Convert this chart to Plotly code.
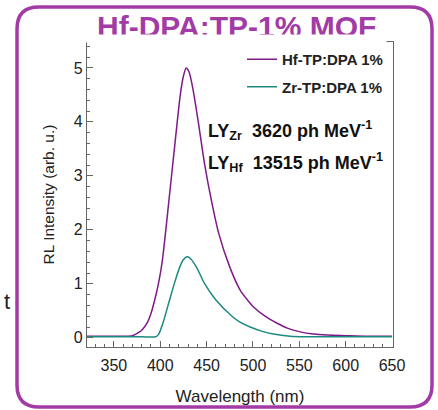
import plotly.graph_objects as go

# spectra (wavelength nm -> RL intensity)
hf_nm = [320, 340, 360, 370, 376, 381, 386, 390, 394, 398, 402, 406, 410, 414, 418, 422, 425,
         428, 431, 435, 441, 448, 455, 463, 475, 486, 495, 500, 513, 526, 537, 551, 565, 580,
         600, 625, 650]
hf_val = [0.03, 0.03, 0.03, 0.04, 0.09, 0.16, 0.28, 0.45, 0.7, 1.0, 1.4, 2.0, 2.65, 3.3, 3.95,
          4.55, 4.85, 5.0, 4.93, 4.63, 4.0, 3.2, 2.56, 1.94, 1.31, 0.89, 0.68, 0.58, 0.4, 0.27,
          0.18, 0.11, 0.07, 0.05, 0.04, 0.03, 0.03]

zr_nm = [320, 340, 360, 380, 395, 398, 403, 410, 416, 421, 425, 429, 433, 439, 448, 460, 478,
         486, 497, 510, 522, 540, 560, 600, 650]
zr_val = [0.02, 0.02, 0.02, 0.02, 0.02, 0.06, 0.28, 0.7, 1.05, 1.31, 1.45, 1.5, 1.46, 1.31,
          1.0, 0.7, 0.39, 0.29, 0.2, 0.12, 0.07, 0.03, 0.02, 0.02, 0.02]

x_ticks = [350, 400, 450, 500, 550, 600, 650]
y_ticks = [0, 1, 2, 3, 4, 5]

W, H = 438, 410
L, R, T, B = 87, 45, 42, 63
PW, PH = W - L - R, H - T - B

def px(x):
    return (x - L) / PW

def py(y):
    return (H - B - y) / PH

PURPLE = "#7e1a88"
TEAL = "#1b8a80"
FRAME = "#a23ba6"
FONT = "Arial, Liberation Sans, sans-serif"

fig = go.Figure()
fig.add_trace(go.Scatter(x=hf_nm, y=hf_val, mode="lines", name="<b>Hf-TP:DPA 1%</b>",
                         line=dict(color=PURPLE, width=1.5, shape="spline", smoothing=0.8),
                         legendgroup="a"))
fig.add_trace(go.Scatter(x=zr_nm, y=zr_val, mode="lines", name="<b>Zr-TP:DPA 1%</b>",
                         line=dict(color=TEAL, width=1.5, shape="spline", smoothing=0.8),
                         legendgroup="b"))

# rounded outer frame
x0, x1, y0, y1, r = px(17), px(432), py(7), py(407), 22
rx, ry = r / PW, r / PH
path = (f"M{x0 + rx},{y0} L{x1 - rx},{y0} Q{x1},{y0} {x1},{y0 - ry} "
        f"L{x1},{y1 + ry} Q{x1},{y1} {x1 - rx},{y1} L{x0 + rx},{y1} "
        f"Q{x0},{y1} {x0},{y1 + ry} L{x0},{y0 - ry} Q{x0},{y0} {x0 + rx},{y0} Z")
fig.add_shape(type="path", path=path, xref="paper", yref="paper",
              line=dict(color=FRAME, width=3.5), layer="below")

ann_font = dict(family=FONT, size=18, color="#111")
fig.add_annotation(x=px(206), y=py(130), xref="paper", yref="paper", xanchor="left",
                   yanchor="middle", text="<b>LY<sub>Zr</sub>  3620 ph MeV<sup>-1</sup></b>",
                   showarrow=False, font=ann_font)
fig.add_annotation(x=px(206), y=py(162), xref="paper", yref="paper", xanchor="left",
                   yanchor="middle", text="<b>LY<sub>Hf</sub>  13515 ph MeV<sup>-1</sup></b>",
                   showarrow=False, font=ann_font)
fig.add_annotation(x=px(236), y=py(27), xref="paper", yref="paper", xanchor="center",
                   yanchor="middle", text="<b>Hf-DPA:TP-1% MOF</b>", showarrow=False,
                   font=dict(family=FONT, size=30, color=FRAME))
# the title is cut off at its foot in the picture
fig.add_annotation(x=px(236), y=py(34), xref="paper", yref="paper", xanchor="center",
                   yanchor="top", text="", showarrow=False, width=300, height=7,
                   bgcolor="white", borderpad=0)
fig.add_annotation(x=px(2), y=py(301), xref="paper", yref="paper", xanchor="left",
                   yanchor="middle", text="t", showarrow=False,
                   font=dict(family=FONT, size=22, color="#222"))

axis_common = dict(showline=True, mirror=True, linecolor="#666", linewidth=1.2,
                   ticks="inside", ticklen=6, tickcolor="#666", showgrid=False, zeroline=False,
                   automargin=False,
                   tickfont=dict(family=FONT, size=16, color="#222"))

fig.update_layout(
    width=W, height=H,
    margin=dict(l=L, r=R, t=T, b=B, autoexpand=False),
    paper_bgcolor="white", plot_bgcolor="white",
    showlegend=True,
    legend=dict(x=px(242), y=py(43), xanchor="left", yanchor="top",
                bgcolor="rgba(0,0,0,0)", tracegroupgap=5,
                font=dict(family=FONT, size=15, color="#222")),
    xaxis=dict(range=[321, 651], tickvals=x_ticks, ticklabelstandoff=4,
               minor=dict(dtick=10, ticks="inside", ticklen=3, tickcolor="#666"),
               title=dict(text="Wavelength (nm)", standoff=16,
                          font=dict(family=FONT, size=17, color="#222")),
               **axis_common),
    yaxis=dict(range=[-0.17, 5.48], tickvals=y_ticks,
               minor=dict(dtick=0.2, ticks="inside", ticklen=3, tickcolor="#666"),
               title=dict(text="RL Intensity (arb. u.)", standoff=15,
                          font=dict(family=FONT, size=15.5, color="#222")),
               **axis_common),
)

fig.write_html("out.html", config={"displayModeBar": False},
               post_script="document.body.style.margin='0';")
